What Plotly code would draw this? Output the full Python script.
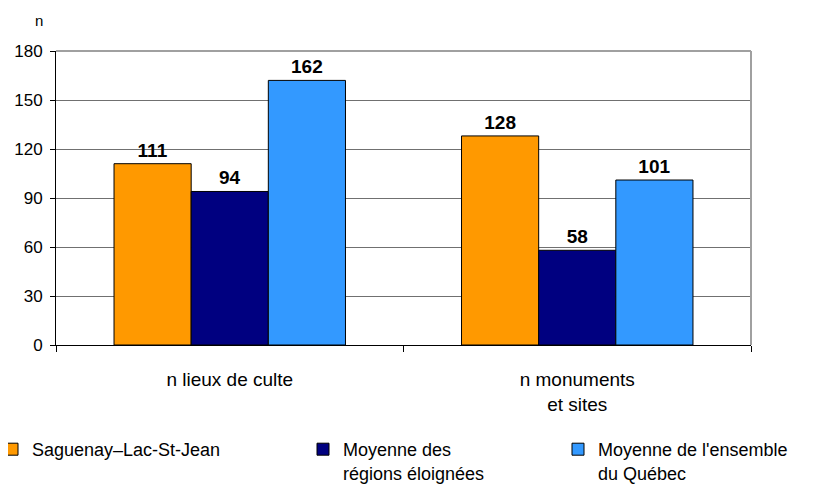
import plotly.graph_objects as go

categories = ["n lieux de culte", "n monuments<br>et sites"]
series_names = ["Saguenay–Lac-St-Jean", "Moyenne des<br>régions éloignées", "Moyenne de l'ensemble<br>du Québec"]
saguenay = [111, 128]
regions_eloignees = [94, 58]
ensemble_quebec = [162, 101]
y_ticks = [0, 30, 60, 90, 120, 150, 180]

colors = ["#FF9900", "#000080", "#3399FF"]
values = [saguenay, regions_eloignees, ensemble_quebec]
legend_ids = ["legend", "legend2", "legend3"]
FONT = "Liberation Sans, Arial, sans-serif"

OFF = 8  # page body margin
W, H = 825 - OFF, 485 - OFF
PL, PR, PT, PB = 56 - OFF, 751 - OFF, 51 - OFF, 345 - OFF  # plot area in figure pixels

def px_x(px):
    return (px - OFF - PL) / (PR - PL)

def px_y(py):
    return (PB - (py - OFF)) / (PB - PT)

fig = go.Figure()
for name, vals, col, lg in zip(series_names, values, colors, legend_ids):
    fig.add_trace(go.Bar(
        x=categories, y=vals, name=name,
        marker=dict(color=col, line=dict(color="#000000", width=1)),
        text=[str(v) for v in vals], textposition="outside",
        textfont=dict(family=FONT, size=19, color="#000000", weight="bold"),
        cliponaxis=False, hoverinfo="skip", legend=lg,
    ))

legend_common = dict(
    yanchor="top", xanchor="left",
    valign="top", font=dict(family=FONT, size=18, color="#000000"),
    bgcolor="rgba(0,0,0,0)", borderwidth=0, tracegroupgap=0,
)
ly = px_y(431)
fig.update_layout(
    width=W, height=H,
    margin=dict(l=PL, r=W - PR, t=PT, b=H - PB, autoexpand=False),
    paper_bgcolor="white", plot_bgcolor="white",
    barmode="group", bargap=0.334, bargroupgap=0,
    font=dict(family=FONT, color="#000000"),
    legend=dict(x=px_x(-8), y=ly, **legend_common),
    legend2=dict(x=px_x(303), y=ly, **legend_common),
    legend3=dict(x=px_x(558), y=ly, **legend_common),
    showlegend=True,
)
fig.update_yaxes(
    range=[0, 180], tickvals=y_ticks, ticks="outside", ticklen=5, tickcolor="#000000",
    tickfont=dict(family=FONT, size=17, color="#000000"),
    showline=True, linecolor="#000000", linewidth=1,
    showgrid=True, gridcolor="#707070", gridwidth=1, zeroline=False,
    ticklabelstandoff=4, automargin=False,
)
fig.update_xaxes(
    ticks="outside", tickson="boundaries", ticklen=6, tickcolor="#000000",
    tickfont=dict(family=FONT, size=19, color="#000000"), tickangle=0,
    showline=True, linecolor="#000000", linewidth=1,
    ticklabelstandoff=17, automargin=False,
)
# plot-area border (top & right)
fig.add_shape(type="line", xref="x domain", yref="y domain", x0=0, x1=1, y0=1, y1=1,
              line=dict(color="#A0A0A0", width=2))
fig.add_shape(type="line", xref="x domain", yref="y domain", x0=1, x1=1, y0=0, y1=1,
              line=dict(color="#A0A0A0", width=2))
fig.add_annotation(text="n", xref="x domain", yref="y domain", x=0, y=1,
                   xanchor="right", yanchor="bottom", xshift=-11, yshift=20,
                   showarrow=False, font=dict(family=FONT, size=15, color="#000000"))

fig.write_html("out.html")
